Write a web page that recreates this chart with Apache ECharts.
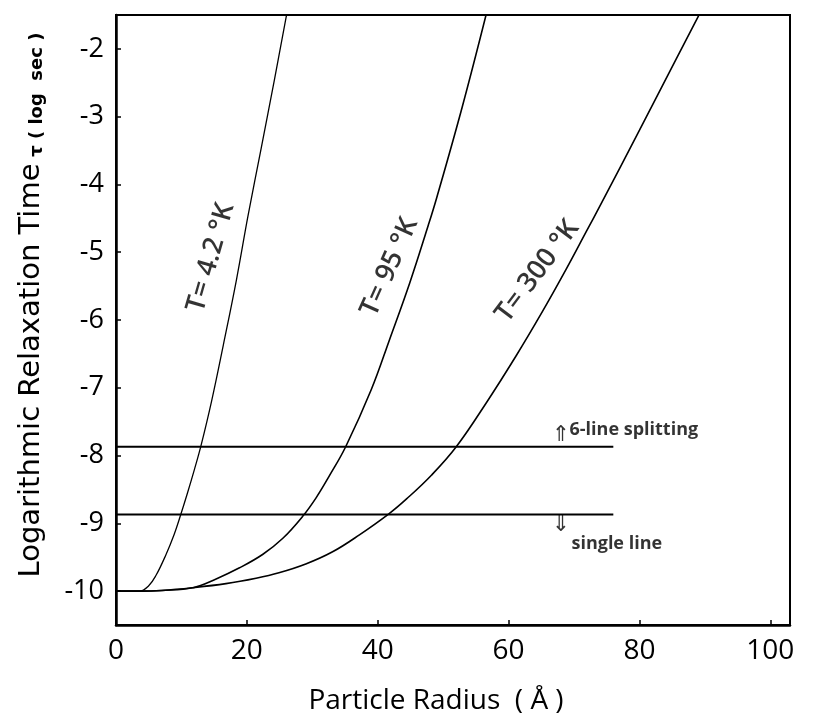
<!DOCTYPE html>
<html>
<head>
<meta charset="utf-8">
<script src="https://cdn.jsdelivr.net/npm/echarts@6/dist/echarts.min.js"></script>
<style>html,body{margin:0;padding:0;background:#fff;}#c{width:830px;height:723px;}</style>
</head>
<body>
<div id="c"></div>
<script>
// ---- data ----
const xTicks = [0, 20, 40, 60, 80, 100];
const yTicks = [-10, -9, -8, -7, -6, -5, -4, -3, -2];

const r42 = [0, 3.6, 5.0, 6.1, 7.6, 8.9, 9.8, 10.9, 12.0, 13.0, 14.6, 16.4, 18.4, 20.2, 22.2, 24.2, 26.1];
const t42 = [-10, -10, -9.92, -9.77, -9.47, -9.16, -8.9, -8.56, -8.2, -7.85, -7.2, -6.37, -5.41, -4.45, -3.46, -2.46, -1.48];

const r95 = [0, 3.6, 7.0, 11.7, 15.3, 18.8, 22.4, 25.5, 28.5, 30.6, 32.6, 35.1, 39.0, 41.8, 44.9, 47.7, 49.0, 52.9, 56.6];
const t95 = [-10, -10, -9.99, -9.95, -9.82, -9.66, -9.46, -9.22, -8.9, -8.62, -8.3, -7.87, -7.03, -6.29, -5.45, -4.61, -4.2, -2.86, -1.48];

const r300 = [0, 3.6, 7.0, 11.7, 16.8, 21.4, 24.9, 29.0, 33.1, 37.2, 41.7, 44.4, 48.2, 52.0, 56.6, 61.2, 65.2, 68.8, 71.9, 74.0, 80.0, 85.6, 89.2];
const t300 = [-10, -10, -9.99, -9.95, -9.89, -9.81, -9.73, -9.6, -9.42, -9.17, -8.86, -8.64, -8.29, -7.87, -7.22, -6.52, -5.87, -5.25, -4.69, -4.31, -3.2, -2.15, -1.48];

const splitLevel = -7.87;   // 6-line splitting threshold
const singleLevel = -8.87;  // single line threshold
const levelRange = [0, 76];

const curveLabels = ['T= 4.2 °K', 'T= 95 °K', 'T= 300 °K'];
const curveLabelPos = [[14.5, -5.08], [41.8, -5.22], [64.4, -5.28]];
const curveLabelRot = [74, 66, 53];

const noteTexts = ['6-line splitting', 'single line'];
const notePos = [[69.3, -7.62], [69.6, -9.3]];
const arrowTexts = ['⇑', '⇓'];
const arrowPos = [[68.0, -7.87], [68.0, -8.87]];

const xName = 'Particle Radius  ( Å )';
const yNameMain = 'Logarithmic Relaxation Time';
const yNameSub = 'τ ( log  sec )';

// ---- chart ----
const zip = (a, b) => a.map((v, i) => [v, b[i]]);
const font = 'Open Sans';
const curve = (name, xs, ys, w) => ({
  name, type: 'line', data: zip(xs, ys), smooth: 0.4,
  showSymbol: false, symbol: 'none', lineStyle: {color: '#000', width: w}, z: 3
});

const chart = echarts.init(document.getElementById('c'), null, {renderer: 'canvas'});
chart.setOption({
  backgroundColor: '#fff',
  animation: false,
  grid: {left: 116, right: 40, top: 15, bottom: 98, show: true, borderColor: '#000', borderWidth: 2},
  xAxis: {
    type: 'value', min: 0, max: 103,
    name: xName, nameLocation: 'middle', nameGap: 62,
    nameTextStyle: {fontFamily: font, fontSize: 28, color: '#000', padding: [0, 34, 0, 0]},
    axisLine: {show: true, onZero: false, lineStyle: {color: '#000', width: 2.5}},
    axisTick: {show: true, inside: true, length: 5, customValues: xTicks, lineStyle: {color: '#000', width: 1.5}},
    axisLabel: {customValues: xTicks, margin: 12, fontFamily: font, fontSize: 28, color: '#000'},
    splitLine: {show: false}
  },
  yAxis: {
    type: 'value', min: -10.5, max: -1.5,
    name: '{a|' + yNameMain + '}  {b|' + yNameSub + '}',
    nameLocation: 'middle', nameGap: 70, nameRotate: 90,
    nameTextStyle: {
      padding: [0, 0, 0, 30],
      rich: {
        a: {fontFamily: 'DejaVu Sans', fontSize: 29, color: '#000', verticalAlign: 'bottom'},
        b: {fontFamily: 'DejaVu Sans', fontSize: 18, fontWeight: 'bold', color: '#000', verticalAlign: 'bottom'}
      }
    },
    axisLine: {show: true, onZero: false, lineStyle: {color: '#000', width: 2.5}},
    axisTick: {show: true, inside: true, length: 5, customValues: yTicks, lineStyle: {color: '#000', width: 1.5}},
    axisLabel: {customValues: yTicks, margin: 12, fontFamily: font, fontSize: 27, color: '#000'},
    splitLine: {show: false}
  },
  series: [
    curve('T=4.2K', r42, t42, 1.3),
    curve('T=95K', r95, t95, 1.6),
    curve('T=300K', r300, t300, 1.6),
    {type: 'line', data: [[levelRange[0], splitLevel], [levelRange[1], splitLevel]], symbol: 'none',
     lineStyle: {color: '#000', width: 2}},
    {type: 'line', data: [[levelRange[0], singleLevel], [levelRange[1], singleLevel]], symbol: 'none',
     lineStyle: {color: '#000', width: 2}},
    {type: 'scatter', symbolSize: 0, silent: true, z: 5,
     data: curveLabelPos.map((p, i) => ({value: p, label: {formatter: curveLabels[i], rotate: curveLabelRot[i]}})),
     label: {show: true, position: 'inside', fontFamily: font, fontSize: 27, fontWeight: 600, color: '#000', align: 'center', verticalAlign: 'middle'}},
    {type: 'scatter', symbolSize: 0, silent: true, z: 5,
     data: notePos.map((p, i) => ({value: p, label: {formatter: noteTexts[i]}})),
     label: {show: true, position: 'inside', fontFamily: font, fontSize: 18, fontWeight: 'bold', color: '#000', align: 'left', verticalAlign: 'middle'}},
    {type: 'scatter', symbolSize: 0, silent: true, z: 5,
     data: arrowPos.map((p, i) => ({value: p, label: {formatter: arrowTexts[i], verticalAlign: i === 0 ? 'bottom' : 'top'}})),
     label: {show: true, position: 'inside', fontFamily: 'DejaVu Sans', fontSize: 22, color: '#000', align: 'center'}}
  ]
});
</script>
</body>
</html>
